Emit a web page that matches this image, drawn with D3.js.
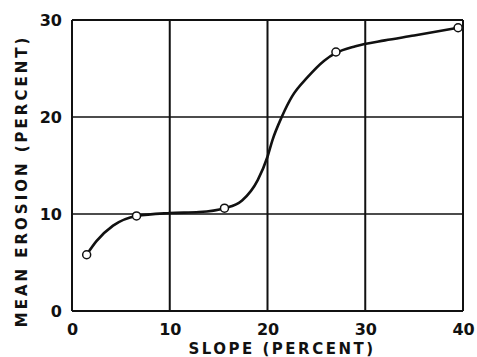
<!DOCTYPE html>
<html>
<head>
<meta charset="utf-8">
<script src="https://cdn.jsdelivr.net/npm/d3@7"></script>
<style>
  body { margin: 0; background: #fff; }
  text { font-family: "DejaVu Sans", sans-serif; font-weight: bold; fill: #111; }
</style>
</head>
<body>
<div id="chart"></div>
<script>
// measured points (open circles)
const slope = [1.5, 6.6, 15.6, 27.0, 39.5];
const erosion = [5.8, 9.8, 10.6, 26.7, 29.2];

// smoothed curve drawn through them
const curveSlope = [1.5, 2.5, 4.2, 6.6, 10, 13, 15.6, 17.4, 19.0, 20.0, 20.5, 21.5, 22.5, 24.1, 25.8, 27.0, 29.0, 32, 35, 39.5];
const curveErosion = [5.8, 7.2, 8.8, 9.8, 10.1, 10.2, 10.6, 11.4, 13.5, 15.9, 17.6, 20.1, 22.1, 24.1, 25.8, 26.6, 27.3, 27.9, 28.4, 29.2];

const xTicks = [0, 10, 20, 30, 40];
const yTicks = [0, 10, 20, 30];

const width = 477, height = 357;
const margin = { left: 72, right: 14, top: 20, bottom: 46 };

const svg = d3.select('#chart')
  .append('svg')
  .attr('width', width)
  .attr('height', height);

const x = d3.scaleLinear().domain([0, 40]).range([margin.left, width - margin.right]);
const y = d3.scaleLinear().domain([0, 30]).range([height - margin.bottom, margin.top]);

// grid
svg.append('g')
  .selectAll('line')
  .data(xTicks)
  .enter()
  .append('line')
  .attr('x1', d => x(d)).attr('x2', d => x(d))
  .attr('y1', y(0)).attr('y2', y(30))
  .attr('stroke', '#111')
  .attr('stroke-width', 2);

svg.append('g')
  .selectAll('line')
  .data(yTicks)
  .enter()
  .append('line')
  .attr('x1', x(0)).attr('x2', x(40))
  .attr('y1', d => y(d)).attr('y2', d => y(d))
  .attr('stroke', '#111')
  .attr('stroke-width', d => (d === 0 || d === 30) ? 2 : 1.6);

// axes (labels only)
const xAxis = svg.append('g')
  .attr('transform', `translate(0, ${y(0)})`)
  .call(d3.axisBottom(x).tickValues(xTicks).tickSize(0).tickPadding(0));
const yAxis = svg.append('g')
  .attr('transform', `translate(${x(0)}, 0)`)
  .call(d3.axisLeft(y).tickValues(yTicks).tickSize(0).tickPadding(10));
[xAxis, yAxis].forEach(a => {
  a.select('.domain').remove();
  a.selectAll('text')
    .style('font-size', '16px')
    .style('font-family', '"DejaVu Sans", sans-serif')
    .style('font-weight', 'bold')
    .attr('fill', '#111');
});
xAxis.selectAll('text').attr('y', 24).attr('dy', null);

// curve
const line = d3.line()
  .x(d => x(d[0]))
  .y(d => y(d[1]))
  .curve(d3.curveMonotoneX);

svg.append('path')
  .datum(d3.zip(curveSlope, curveErosion))
  .attr('d', line)
  .attr('fill', 'none')
  .attr('stroke', '#111')
  .attr('stroke-width', 2.6);

// markers
svg.append('g')
  .selectAll('circle')
  .data(d3.zip(slope, erosion))
  .enter()
  .append('circle')
  .attr('cx', d => x(d[0]))
  .attr('cy', d => y(d[1]))
  .attr('r', 4)
  .attr('fill', '#fff')
  .attr('stroke', '#111')
  .attr('stroke-width', 1.5);

// titles
svg.append('text')
  .attr('x', 282)
  .attr('y', 354)
  .attr('text-anchor', 'middle')
  .style('font-size', '15px')
  .style('letter-spacing', '2.5px')
  .text('SLOPE (PERCENT)');

svg.append('text')
  .attr('transform', `translate(27, 181) rotate(-90)`)
  .attr('text-anchor', 'middle')
  .style('font-size', '15px')
  .style('letter-spacing', '3px')
  .text('MEAN EROSION (PERCENT)');
</script>
</body>
</html>
